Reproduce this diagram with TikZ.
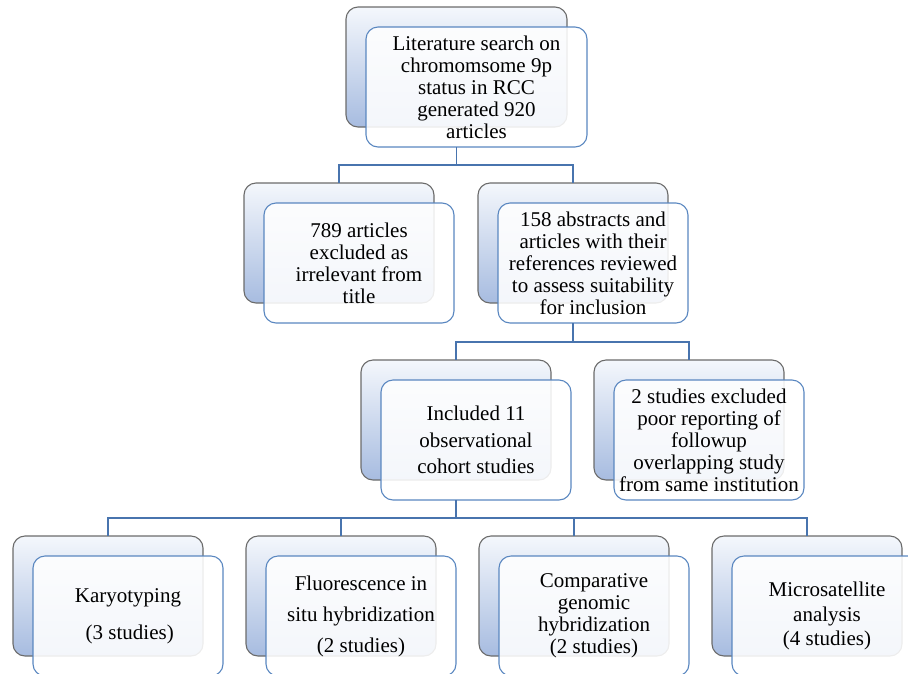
\documentclass[tikz,border=0pt]{standalone}
\usepackage{fontspec}
\setmainfont{Liberation Serif}
\usetikzlibrary{positioning}

\definecolor{boxblue}{HTML}{5A87C0}
\definecolor{linkblue}{HTML}{4874AE}
\definecolor{shadeblue}{HTML}{A7BCE0}
\definecolor{shadetop}{HTML}{F4F7FC}
\definecolor{rimgray}{HTML}{6B6B6B}

\begin{document}
\begin{tikzpicture}[x=1pt,y=-1pt,
            backbox/.style={draw=rimgray,line width=1.1pt,rounded corners=12pt,anchor=north west,
              minimum width=190pt,minimum height=120pt,inner sep=0pt,outer sep=0pt,
              top color=shadetop,bottom color=shadeblue},
            frontbox/.style={draw=boxblue,line width=1.1pt,rounded corners=12pt,
              minimum width=190pt,minimum height=120pt,inner sep=0pt,outer sep=0pt,
              fill=white,fill opacity=0.88,text opacity=1,align=center,
              font=\fontsize{21}{22}\selectfont},
            wide/.style={minimum width=221pt},
            link/.style={draw=linkblue,line width=1.2pt}
          ]
          \useasboundingbox (0,0) rectangle (908,673);

          %search
          \node[backbox,wide] (tpb) at (346,7) {};
          \node[frontbox,wide] (tpf) at ([shift={(20,20)}]tpb.center)
            {Literature search on\\chromomsome 9p\\status in RCC\\generated 920\\articles};

          %first screening
          \node[backbox] (l2ab) at (244,183) {};
          \node[frontbox] (l2af) at ([shift={(20,20)}]l2ab.center)
            {789 articles\\excluded as\\irrelevant from\\title};
          \node[backbox,right=44pt of l2ab] (l2bb) {};
          \node[frontbox] (l2bf) at ([shift={(20,20)}]l2bb.center)
            {158 abstracts and\\articles with their\\references reviewed\\to assess suitability\\for inclusion};

          %second screening
          \node[backbox] (l3ab) at (361,360) {};
          \node[frontbox] (l3af) at ([shift={(20,20)}]l3ab.center)
            {Included 11\\[4.5pt]observational\\[4.5pt]cohort studies};
          \node[backbox,right=43pt of l3ab] (l3bb) {};
          \node[frontbox] (l3bf) at ([shift={(20,20)}]l3bb.center)
            {2 studies excluded\\poor reporting of\\followup\\overlapping study\\from same institution};

          %methods
          \node[backbox] (l4ab) at (13,536) {};
          \node[frontbox] (l4af) at ([shift={(20,20)}]l4ab.center)
            {Karyotyping\\[15pt]\,(3 studies)};
          \node[backbox,right=43pt of l4ab] (l4bb) {};
          \node[frontbox] (l4bf) at ([shift={(20,20)}]l4bb.center)
            {Fluorescence in\\[9pt]situ hybridization\\[9pt](2 studies)};
          \node[backbox,right=43pt of l4bb] (l4cb) {};
          \node[frontbox] (l4cf) at ([shift={(20,20)}]l4cb.center)
            {Comparative\\genomic\\hybridization\\(2 studies)};
          \node[backbox,right=43pt of l4cb] (l4db) {};
          \node[frontbox] (l4df) at ([shift={(20,20)}]l4db.center)
            {Microsatellite\\[2.5pt]analysis\\[2.5pt](4 studies)};

          %links
          \draw[link] (tpf.south -| tpb.south) -- ++(0,18) coordinate (j1);
          \draw[link] (j1) -| (l2ab.north);
          \draw[link] (j1) -| (l2bb.north);
          \draw[link] (l2bf.south -| l2bb.south) -- ++(0,19) coordinate (j2);
          \draw[link] (j2) -| (l3ab.north);
          \draw[link] (j2) -| (l3bb.north);
          \draw[link] (l3af.south -| l3ab.south) -- ++(0,18) coordinate (j3);
          \draw[link] (j3) -| (l4ab.north);
          \draw[link] (j3) -| (l4bb.north);
          \draw[link] (j3) -| (l4cb.north);
          \draw[link] (j3) -| (l4db.north);
      \end{tikzpicture}
\end{document}
